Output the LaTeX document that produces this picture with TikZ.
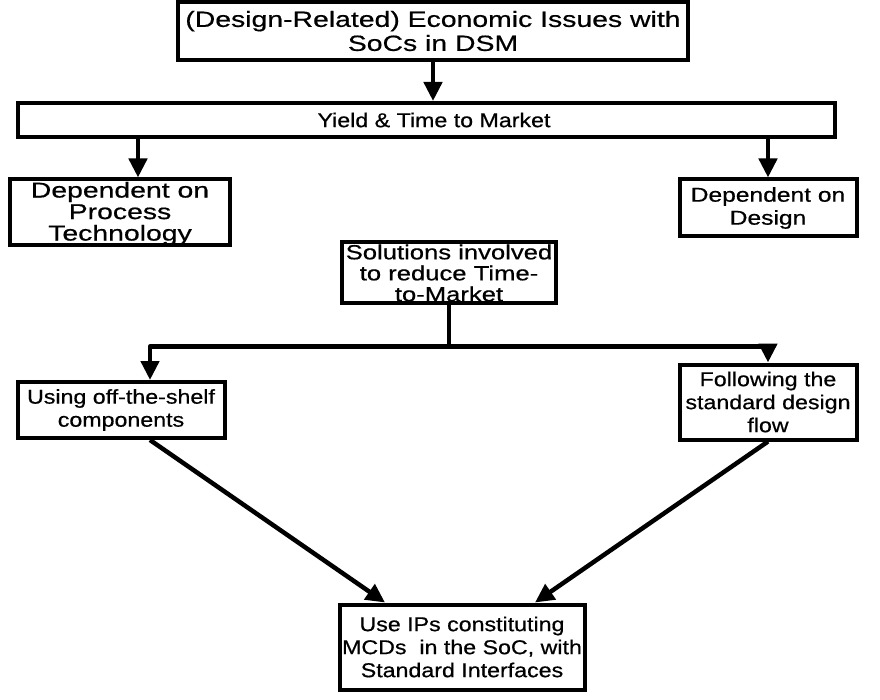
\documentclass[tikz,border=0pt]{standalone}
\usepackage{fontspec}
\setmainfont{Liberation Sans}[FakeStretch=1.16,FakeBold=0.6]
% wider cuts of the same face for the roomier boxes
\newfontfamily\fwideA{Liberation Sans}[FakeStretch=1.29,FakeBold=0.6]
\newfontfamily\fwideB{Liberation Sans}[FakeStretch=1.32,FakeBold=0.6]
\newfontfamily\fwideC{Liberation Sans}[FakeStretch=1.25,FakeBold=0.6]
\newfontfamily\fwideD{Liberation Sans}[FakeStretch=1.23,FakeBold=0.6]
% lower a block of centred lines without changing its reported size
\newcommand{\lowered}[3]{\raisebox{-#1}[\height][\depth]{\parbox{#2}{\centering #3}}}
\usetikzlibrary{arrows.meta,calc}
\begin{document}
\begin{tikzpicture}[x=1pt,y=-1pt,
  box/.style={draw=black,line width=4pt,rectangle,inner sep=0pt,align=center,
    font=\fontsize{20}{23}\selectfont},
  link/.style={line width=4.5pt,draw=black,line join=round},
  arr/.style={link,-{Triangle[length=19pt,width=18pt]}},
]
\useasboundingbox (0,0) rectangle (880,700);

% boxes
\node[box,minimum width=510pt,minimum height=58pt,
  font=\fwideA\fontsize{22}{24}\selectfont] (top) at (433,31)
  {(Design-Related) Economic Issues with\\SoCs in DSM};
\node[box,minimum width=817pt,minimum height=34pt] (yield) at (426,120)
  {\hspace*{16pt}Yield \& Time to Market};
\node[box,minimum width=220pt,minimum height=66pt,
  font=\fwideB\fontsize{21.5}{21.5}\selectfont] (dproc) at (120,212.5)
  {\lowered{1pt}{220pt}{Dependent on\\Process\\Technology}};
\node[box,minimum width=177pt,minimum height=57pt,
  font=\fwideD\fontsize{20}{23}\selectfont] (ddes) at (768,208)
  {Dependent on\\Design};
\node[box,minimum width=214pt,minimum height=61pt,
  font=\fwideC\fontsize{20.5}{21}\selectfont] (sol) at (449,273)
  {\lowered{0pt}{214pt}{Solutions involved\\to reduce Time-\\to-Market}};
\node[box,minimum width=207pt,minimum height=56pt] (shelf) at (121,410)
  {Using off-the-shelf\\components};
\node[box,minimum width=177pt,minimum height=75pt] (flow) at (768,402)
  {Following the\\standard design\\flow};
\node[box,minimum width=245pt,minimum height=85pt] (ips) at (462,647)
  {Use IPs constituting\\MCDs\ \ in the SoC, with\\Standard Interfaces};

% connectors
\draw[arr] (top.south) -- (top.south |- yield.north);
\draw[arr] ([xshift=18pt]dproc.north |- yield.south) -- ([xshift=18pt]dproc.north);
\draw[arr] (ddes.north |- yield.south) -- (ddes.north);

\coordinate (split) at ($(sol.south)+(0,41)$);
\draw[link] (sol.south) -- (split);
\draw[arr] (split) -| ([xshift=29pt]shelf.north);
\draw[arr] (split) -| (flow.north);

\draw[arr] ([xshift=29pt]shelf.south) -- ([xshift=-77pt]ips.north);
\draw[arr] (flow.south) -- ([xshift=73pt]ips.north);
\end{tikzpicture}
\end{document}
